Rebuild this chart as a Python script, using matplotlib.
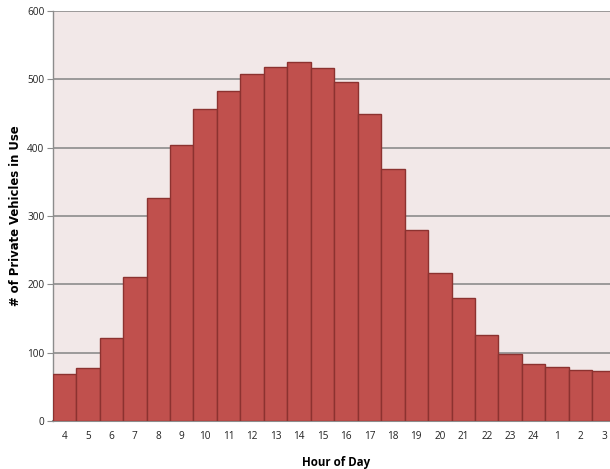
import matplotlib

matplotlib.use("Agg")

import matplotlib.pyplot as plt
import numpy as np

hours = ["4", "5", "6", "7", "8", "9", "10", "11", "12", "13", "14", "15",
         "16", "17", "18", "19", "20", "21", "22", "23", "24", "1", "2", "3"]
vehicles = [68, 78, 121, 211, 326, 404, 456, 483, 508, 518, 525, 517,
            496, 449, 369, 279, 217, 180, 125, 98, 83, 79, 75, 73]
y_ticks = [0, 100, 200, 300, 400, 500, 600]

BAR_COLOR = "#C0504D"
EDGE_COLOR = "#8C3230"
BG_COLOR = "#F2E8E8"
GRID_COLOR = "#8C8C8C"

plt.rcParams["font.family"] = ["Open Sans", "DejaVu Sans"]

fig = plt.figure(figsize=(6.10, 4.69), dpi=100)
ax = fig.add_axes([0.0864, 0.1026, 0.923, 0.874])
ax.set_facecolor(BG_COLOR)

x = np.arange(len(hours))
ax.bar(x, vehicles, width=1.0, color=BAR_COLOR, edgecolor=EDGE_COLOR,
       linewidth=1.0, zorder=3)

ax.set_xlim(-0.5, len(hours) - 0.5)
ax.set_ylim(0, 600)
ax.set_yticks(y_ticks)
ax.set_yticklabels([str(v) for v in y_ticks], fontsize=7.2, color="#222222")
ax.set_xticks(x)
ax.set_xticklabels(hours, fontsize=7.2, color="#222222")

ax.yaxis.grid(True, color=GRID_COLOR, linewidth=1.2, zorder=0)
ax.set_axisbelow(True)

for side in ("top", "right"):
    ax.spines[side].set_visible(False)
ax.spines["left"].set_color(GRID_COLOR)
ax.spines["left"].set_linewidth(1.0)
ax.spines["bottom"].set_color(GRID_COLOR)
ax.spines["bottom"].set_linewidth(1.5)

ax.tick_params(axis="y", length=4, color=GRID_COLOR, pad=2)
ax.tick_params(axis="x", length=0, pad=7)

ax.set_xlabel("Hour of Day", fontsize=8.3, fontweight="bold")
ax.xaxis.set_label_coords(0.503, -0.085)
ax.set_ylabel("# of Private Vehicles in Use", fontsize=8.4, fontweight="bold",
              family="DejaVu Sans")
ax.yaxis.set_label_coords(-0.055, 0.5)

fig.savefig("out.png", dpi=100)
